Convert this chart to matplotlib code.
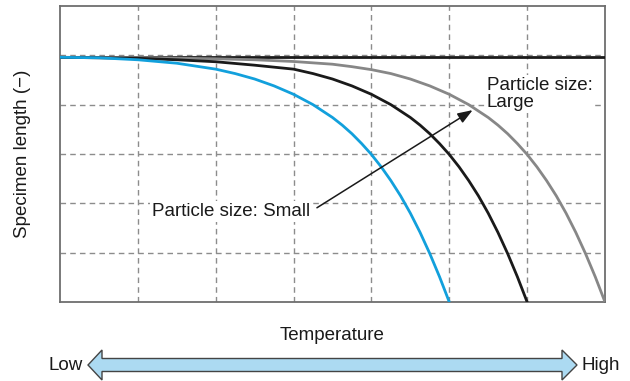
import matplotlib
matplotlib.use("Agg")
import matplotlib.pyplot as plt
from matplotlib.patches import Polygon

plt.rcParams['font.family'] = ['Liberation Sans', 'DejaVu Sans']

# Data (x: temperature grid units 0-7, y: specimen length grid units 0-6)
flat_x = [0, 7]
flat_y = [4.96, 4.96]

small_x = [0, 0.5, 1.0, 1.5, 2.0, 2.25, 2.5, 2.75, 3.0, 3.25, 3.5, 3.625, 3.75, 3.875, 4.0,
           4.125, 4.25, 4.375, 4.5, 4.625, 4.75, 4.875, 5.0]
small_y = [4.96, 4.95, 4.91, 4.84, 4.72, 4.63, 4.52, 4.38, 4.21, 4.00, 3.74, 3.585, 3.41, 3.21, 2.99,
           2.74, 2.46, 2.15, 1.80, 1.41, 0.98, 0.51, 0.0]

mid_x = [0, 1.0, 1.5, 2.0, 2.5, 3.0, 3.25, 3.5, 3.75, 4.0, 4.25, 4.5, 4.625, 4.75, 4.875, 5.0,
         5.125, 5.25, 5.375, 5.5, 5.625, 5.75, 5.875, 6.0]
mid_y = [4.96, 4.94, 4.91, 4.87, 4.80, 4.72, 4.63, 4.52, 4.38, 4.21, 4.00, 3.74, 3.585, 3.41, 3.21, 2.99,
         2.74, 2.46, 2.15, 1.80, 1.41, 0.98, 0.51, 0.0]

large_x = [0, 1.0, 2.0, 2.5, 3.0, 3.5, 3.75, 4.0, 4.25, 4.5, 4.75, 5.0, 5.25, 5.5, 5.625, 5.75, 5.875,
           6.0, 6.125, 6.25, 6.375, 6.5, 6.625, 6.75, 6.875, 7.0]
large_y = [4.96, 4.955, 4.93, 4.91, 4.875, 4.82, 4.77, 4.71, 4.63, 4.52, 4.38, 4.21, 4.00, 3.74, 3.585,
           3.41, 3.21, 2.99, 2.74, 2.46, 2.15, 1.80, 1.41, 0.98, 0.51, 0.0]

x_grid = [1, 2, 3, 4, 5, 6]
y_grid = [1, 2, 3, 4, 5]

label_small = "Particle size: Small"
label_large = "Particle size:\nLarge"
arrow_start = (3.30, 1.91)
arrow_tip = (5.30, 3.89)

W, H = 630, 381
fig = plt.figure(figsize=(6.3, 3.81), dpi=100)
ax = fig.add_axes([60 / W, 1 - 302 / H, 545 / W, 296 / H])
ax.set_xlim(0, 7)
ax.set_ylim(0, 6)
ax.set_xticks([])
ax.set_yticks([])
for s in ax.spines.values():
    s.set_color('#6e6e6e')
    s.set_linewidth(1.3)

for gx in x_grid:
    ax.axvline(gx, color='#8c8c8c', lw=1.0, ls=(0, (4, 3)), zorder=1)
for gy in y_grid:
    ax.axhline(gy, color='#8c8c8c', lw=1.0, ls=(0, (4, 3)), zorder=1)

ax.plot(flat_x, flat_y, color='#1a1a1a', lw=2.0, zorder=3)
ax.plot(large_x, large_y, color='#878787', lw=2.0, zorder=3, solid_joinstyle='round')
ax.plot(mid_x, mid_y, color='#1a1a1a', lw=2.0, zorder=3, solid_joinstyle='round')
ax.plot(small_x, small_y, color='#12a0dc', lw=2.0, zorder=3, solid_joinstyle='round')

bbox = dict(facecolor='white', edgecolor='none', pad=1.5)
ax.text(1.18, 1.83, label_small, fontsize=13.5, color='#1a1a1a', va='center', ha='left', bbox=bbox, zorder=4)
ax.text(5.48, 4.22, label_large, fontsize=13.5, color='#1a1a1a', va='center', ha='left',
        linespacing=1.0, bbox=bbox, zorder=4)
ax.annotate('', xy=arrow_tip, xytext=arrow_start,
            arrowprops=dict(arrowstyle='-|>,head_length=0.9,head_width=0.33', color='#1a1a1a', lw=1.1,
                            shrinkA=0, shrinkB=0), zorder=5)

ax.set_ylabel('Specimen length (−)', fontsize=13.5, color='#1a1a1a')
ax.yaxis.set_label_coords(-(60 - 31) / 545, 0.5)

fig.text(332.5 / W, 1 - 335 / H, 'Temperature', fontsize=13.5, color='#1a1a1a', ha='center', va='center')
fig.text(66 / W, 1 - 365 / H, 'Low', fontsize=13.5, color='#1a1a1a', ha='center', va='center')
fig.text(601 / W, 1 - 365 / H, 'High', fontsize=13.5, color='#1a1a1a', ha='center', va='center')

cy = 365
pts_px = [(88, cy), (102, cy - 15), (102, cy - 6.5), (562, cy - 6.5), (562, cy - 15), (577, cy),
          (562, cy + 15), (562, cy + 6.5), (102, cy + 6.5), (102, cy + 15)]
pts = [(px / W, 1 - py / H) for px, py in pts_px]
fig.patches.append(Polygon(pts, closed=True, facecolor='#acdaf2', edgecolor='#444444', lw=1.0,
                           transform=fig.transFigure, figure=fig))

fig.savefig('out.png', dpi=100)
